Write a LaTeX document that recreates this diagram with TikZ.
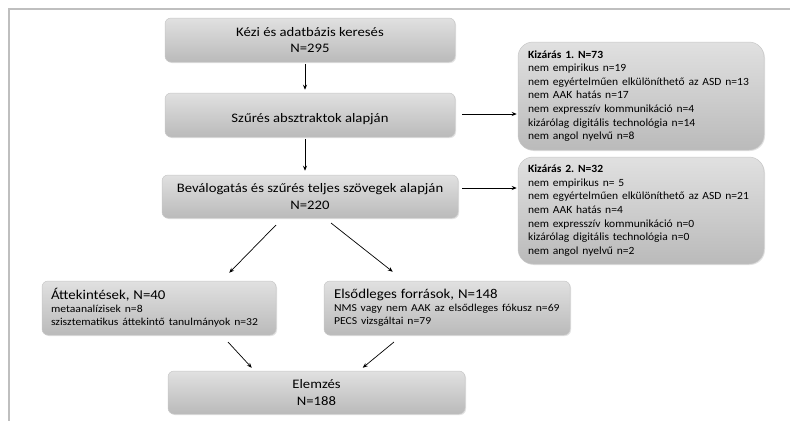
\documentclass[tikz,border=0pt]{standalone}
\usepackage{fontspec}
\usepackage{graphicx}
\setmainfont{Carlito}
\usetikzlibrary{calc,shadows,arrows.meta}

% line helpers: slightly widened Carlito lines
\newcommand\mainln[1]{\scalebox{1.13}[1]{#1}}
\newcommand\listln[1]{\scalebox{1.05}[1]{#1}}
\newcommand\srcln[1]{\scalebox{1.1}[1]{#1}}
\newcommand\srchead[1]{\scalebox{1.1}[1]{\fontsize{13.5}{16}\selectfont #1}}

\tikzset{
  box/.style={rounded corners=6pt, draw=black!22, line width=0.5pt,
    top color=black!12, bottom color=black!27,
    drop shadow={shadow xshift=1pt, shadow yshift=-1pt, opacity=0.18, fill=black!60},
    inner sep=0pt, align=center, font=\frenchspacing\fontsize{13}{16.5}\selectfont},
  listbox/.style={box, rounded corners=15pt, align=left,
    font=\frenchspacing\fontsize{11}{13.6}\selectfont},
  srcbox/.style={box, align=left, font=\frenchspacing\fontsize{10.6}{13.2}\selectfont},
  arr/.style={-{Stealth[length=5pt,width=4pt]}, line width=0.7pt, black},
  frameline/.style={draw=black!25, line width=1.6pt}
}

\begin{document}
\begin{tikzpicture}[x=1pt, y=-1pt]
  \useasboundingbox (0,0) rectangle (790,421);

  % outer frame, top and left edges only
  \coordinate (fa) at (9,9);
  \coordinate (fb) at (790,9);
  \coordinate (fc) at (9,421);
  \draw[frameline] (fb) -- (fa) -- (fc);

  % main flow
  \node[box, minimum width=290pt, minimum height=44pt] (b1) at (310,40)
    {\mainln{Kézi és adatbázis keresés}\\\mainln{N=295}};
  \node[box, minimum width=290pt, minimum height=44pt] (b2) at (310,115)
    {\mbox{}\\\mainln{Szűrés absztraktok alapján}};
  \node[box, minimum width=296pt, minimum height=43pt] (b3) at (310,196.5)
    {\mainln{Beválogatás és szűrés teljes szövegek alapján}\\\mainln{N=220}};

  % exclusion lists
  \node[listbox, minimum width=246pt, minimum height=108pt, text width=226pt] (k1) at (641,96)
    {\listln{\textbf{Kizárás 1. N=73}}\\
     \listln{nem empirikus n=19}\\
     \listln{nem egyértelműen elkülöníthető az ASD n=13}\\
     \listln{nem AAK hatás n=17}\\
     \listln{nem expresszív kommunikáció n=4}\\
     \listln{kizárólag digitális technológia n=14}\\
     \listln{nem angol nyelvű n=8}};
  \node[listbox, minimum width=246pt, minimum height=107pt, text width=226pt] (k2) at (641,210.5)
    {\listln{\textbf{Kizárás 2. N=32}}\\
     \listln{nem empirikus n= 5}\\
     \listln{nem egyértelműen elkülöníthető az ASD n=21}\\
     \listln{nem AAK hatás n=4}\\
     \listln{nem expresszív kommunikáció n=0}\\
     \listln{kizárólag digitális technológia n=0}\\
     \listln{nem angol nyelvű n=2}};

  % source types
  \node[srcbox, minimum width=234pt, minimum height=54pt, text width=216pt] (s1) at (159,308)
    {\srchead{Áttekintések, N=40}\\
     \srcln{metaanalízisek n=8}\\
     \srcln{szisztematikus áttekintő tanulmányok n=32}};
  \node[srcbox, minimum width=246pt, minimum height=54pt, text width=226pt] (s2) at (447,308)
    {\srchead{Elsődleges források, N=148}\\
     \srcln{NMS vagy nem AAK az elsődleges fókusz n=69}\\
     \srcln{PECS vizsgáltai n=79}};

  \node[box, minimum width=297pt, minimum height=43pt] (e) at (316.5,392.5)
    {\mainln{Elemzés}\\\mainln{N=188}};

  % connectors
  \draw[arr] ($(b1.south)+(-5,1.5)$) -- ($(b2.north)+(-5,-3)$);
  \draw[arr] ($(b2.south)+(-5,1.5)$) -- ($(b3.north)+(-5,-4)$);
  \draw[arr] ($(b2.east)+(7,-1)$) -- ($(k1.west |- b2.east)+(-1,-1)$);
  \draw[arr] ($(b3.east)+(4,-8.5)$) -- ($(k2.west |- b3.east)+(-1,-8.5)$);

  \coordinate (d1a) at (276,225);
  \coordinate (d2a) at (331,223);
  \draw[arr] (d1a) -- ($(s1.north east)+(-47,-8)$);
  \draw[arr] (d2a) -- ($(s2.north west)+(69,-9)$);

  \coordinate (u1a) at (228,342);
  \coordinate (u2a) at (394,342);
  \draw[arr] (u1a) -- ($(e.north west)+(84,-3)$);
  \draw[arr] (u2a) -- ($(e.north west)+(195,-3)$);
\end{tikzpicture}
\end{document}
